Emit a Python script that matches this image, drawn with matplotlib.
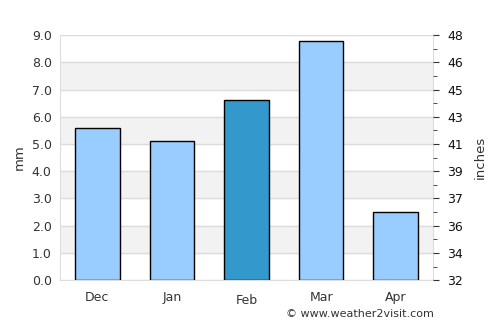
import matplotlib.pyplot as plt
import numpy as np

months = ["Dec", "Jan", "Feb", "Mar", "Apr"]
rain_mm = [5.6, 5.1, 6.6, 8.8, 2.5]
highlight = "Feb"
left_ticks = [0, 1, 2, 3, 4, 5, 6, 7, 8, 9]
right_labels = ["32", "34", "36", "37", "39", "41", "43", "45", "46", "48"]

fig = plt.figure(figsize=(5, 3.25), dpi=100)
ax = fig.add_axes([0.12, 0.138, 0.746, 0.754])

# alternating bands
for lo in range(1, 9, 2):
    ax.axhspan(lo, lo + 1, color="#f2f2f2", zorder=0)
for t in left_ticks:
    ax.axhline(t, color="#dddddd", lw=1, zorder=1)

colors = ["#3399cc" if m == highlight else "#99ccff" for m in months]
x = np.arange(len(months))
ax.bar(x, rain_mm, width=0.6, color=colors, edgecolor="black", linewidth=1, zorder=3)

ax.set_xlim(-0.5, len(months) - 0.5)
ax.set_ylim(0, 9)
ax.set_yticks(left_ticks)
ax.set_yticklabels([f"{t:.1f}" for t in left_ticks])
ax.set_xticks(x)
ax.set_xticklabels(months)
for lbl in ax.get_xticklabels():
    if lbl.get_text() == highlight:
        lbl.set_y(-0.012)
ax.tick_params(axis="both", length=0, labelsize=9, colors="#333333", pad=8)
ax.tick_params(axis="y", pad=6)
ax.set_ylabel("mm", fontsize=9.5, color="#333333")
for s in ax.spines.values():
    s.set_color("#dddddd")

ax2 = ax.twinx()
ax2.set_ylim(0, 9)
ax2.set_yticks(left_ticks)
ax2.set_yticklabels(right_labels)
ax2.set_yticks(np.arange(0.5, 9, 0.5), minor=True)
ax2.tick_params(axis="y", which="major", length=4, color="#333333", labelsize=9, colors="#111111", pad=6)
ax2.tick_params(axis="y", which="minor", length=3, color="#333333")
ax2.set_ylabel("inches", fontsize=9.5, color="#333333", labelpad=8)
for s in ax2.spines.values():
    s.set_visible(False)

fig.text(0.868, 0.035, "© www.weather2visit.com", ha="right", va="center", fontsize=8, color="#333333")

fig.savefig("out.png", dpi=100)
